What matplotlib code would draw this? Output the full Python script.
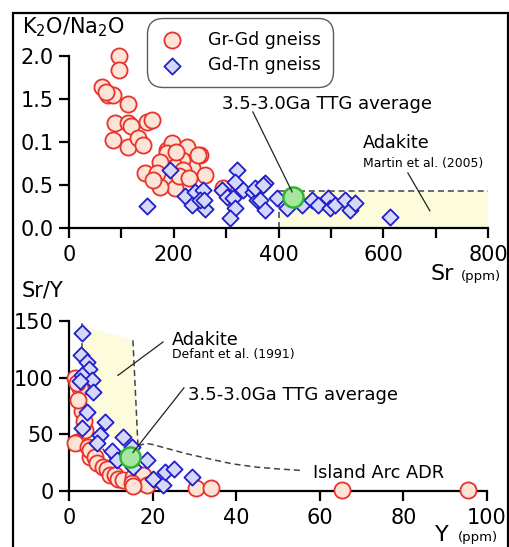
import numpy as np
import matplotlib
matplotlib.use("Agg")
import matplotlib.pyplot as plt
from matplotlib.patches import Rectangle, Polygon

plt.rcParams["font.family"] = ["DejaVu Sans"]
plt.rcParams["mathtext.default"] = "regular"

W, H = 509, 547

# --- top panel: Sr (ppm) vs K2O/Na2O ---
grgd_sr = [95, 95, 63, 74, 84, 112, 88, 112, 118, 149, 158, 84, 112, 132, 141,
           145, 174, 183, 202, 174, 187, 197, 225, 250, 235, 260, 216, 199, 187,
           174, 168, 218, 246, 294, 210, 230, 70, 160, 205]
grgd_k = [2.0, 1.84, 1.64, 1.55, 1.55, 1.44, 1.22, 1.22, 1.19, 1.23, 1.26, 1.02,
          0.94, 1.05, 0.97, 0.64, 0.67, 0.53, 0.47, 0.48, 0.91, 0.99, 0.94, 0.85,
          0.70, 0.62, 0.79, 0.75, 0.87, 0.77, 0.64, 0.67, 0.85, 0.47, 0.60, 0.58,
          1.58, 0.56, 0.88]
gdtn_sr = [193, 149, 221, 240, 256, 235, 260, 250, 292, 301, 320, 317, 332, 313,
           317, 307, 351, 359, 355, 374, 365, 374, 397, 416, 445, 464, 475, 494,
           498, 508, 527, 536, 546, 613, 370, 258]
gdtn_k = [0.67, 0.26, 0.37, 0.42, 0.44, 0.27, 0.22, 0.33, 0.44, 0.36, 0.67, 0.53,
          0.44, 0.35, 0.23, 0.12, 0.42, 0.33, 0.47, 0.52, 0.33, 0.21, 0.35, 0.23,
          0.27, 0.33, 0.27, 0.35, 0.23, 0.27, 0.33, 0.21, 0.29, 0.13, 0.50, 0.33]
ttg_sr, ttg_k = 427, 0.36
adakite_top_sr = [400, 800]
adakite_top_k = 0.43
top_yticks = [0.0, 0.5, 1.0, 1.5, 2.0]
top_yticklabels = ["0.0", "0.5", "0.1", "1.5", "2.0"]

# --- bottom panel: Y (ppm) vs Sr/Y ---
grgd_y = [1.4, 2.6, 1.9, 3.1, 1.9, 1.4, 4.5, 3.8, 5.0, 5.0, 6.2, 6.7, 8.1, 9.0,
          9.8, 11.0, 11.7, 13.0, 15.3, 15.3, 17.5, 17.7, 18.7, 15.0, 15.3, 30.5,
          34.0, 65.3, 95.5, 2.2, 3.5]
grgd_sry = [100, 91, 95, 71, 43, 42, 39, 54, 30, 36, 30, 25, 21, 19, 14, 14, 11,
            10, 10, 12, 12, 14, 5, 7, 4, 3, 3, 1, 1, 80, 62]
gdtn_y = [3.1, 2.9, 4.3, 4.8, 3.1, 5.5, 5.7, 4.3, 3.1, 7.4, 8.6, 6.7, 10.3, 13.0,
          11.5, 15.0, 18.7, 15.3, 20.1, 22.5, 23.0, 25.0, 29.4, 2.6]
gdtn_sry = [139, 120, 114, 108, 102, 98, 87, 70, 56, 49, 61, 42, 35, 48, 27, 39,
            27, 21, 11, 5, 17, 19, 12, 97]
ttg_y, ttg_sry = 14.6, 30
adakite_bot_y = [3.1, 15.3, 16.5, 12, 8, 5, 3.6, 3.1]
adakite_bot_sry = [146, 133, 42, 44, 52, 70, 90, 120]
adakite_edge_y = [15.3, 16.5]
adakite_edge_sry = [133, 40]
adr_upper_y = [16.5, 18.5, 20, 24, 28, 34, 39, 45, 50, 56]
adr_upper_sry = [40, 42, 41, 37, 33, 28, 24, 21, 19.5, 18]
adr_lower_y = [3.1, 3.1, 3.5, 4.2, 5.5, 7.5, 10, 13.9, 15.8]
adr_lower_sry = [148, 120, 95, 75, 55, 40, 28, 8, 0]

RED_E, RED_F = "#e8322b", "#fde4d6"
BLUE_E, BLUE_F = "#1f1fcc", "#d6d8fa"
GREEN_E, GREEN_F = "#2db82d", "#a6e6a0"
YELLOW = "#fcfbdc"
DASH = "#444444"


def fx(px):
    return px / W


def fy(py):
    return 1 - py / H


def style_axes(ax):
    for s in ["top", "right"]:
        ax.spines[s].set_visible(False)
    for s in ["left", "bottom"]:
        ax.spines[s].set_linewidth(1.6)
    ax.tick_params(which="both", direction="out", length=7.5, width=1.6,
                   labelsize=15)
    ax.tick_params(axis="x", pad=5)
    ax.tick_params(axis="y", pad=3.5)
    ax.set_facecolor("none")


fig = plt.figure(figsize=(W / 100, H / 100), dpi=100)

# top panel
ax1 = fig.add_axes([fx(69), fy(228), fx(488) - fx(69), fy(56) - fy(228)])
ax1.set_xlim(0, 800)
ax1.set_ylim(0, 2.0)
ax1.fill_between(adakite_top_sr, 0, adakite_top_k, color=YELLOW, lw=0, zorder=0)
ax1.plot(adakite_top_sr, [adakite_top_k] * 2, ls=(0, (4, 2.5)), color=DASH, lw=1.1, zorder=1)
ax1.plot([adakite_top_sr[0]] * 2, [0, adakite_top_k], ls=(0, (4, 2.5)), color=DASH, lw=1.1, zorder=1)
ax1.scatter(grgd_sr, grgd_k, s=135, marker="o", facecolor=RED_F, edgecolor=RED_E,
            lw=1.3, zorder=3, clip_on=False, label="Gr-Gd gneiss")
ax1.scatter(gdtn_sr, gdtn_k, s=68, marker="D", facecolor=BLUE_F, edgecolor=BLUE_E,
            lw=1.3, zorder=4, clip_on=False, label="Gd-Tn gneiss")
ax1.scatter([ttg_sr], [ttg_k], s=210, marker="o", facecolor=GREEN_F, edgecolor=GREEN_E,
            lw=1.8, zorder=5, clip_on=False)
ax1.plot([351, 426], [1.35, 0.42], color="#222222", lw=0.9, zorder=6)
ax1.plot([647, 689], [0.64, 0.20], color="#222222", lw=0.9, zorder=6)
ax1.set_xticks([0, 200, 400, 600, 800])
ax1.set_xticks([100, 300, 500, 700], minor=True)
ax1.set_yticks(top_yticks)
ax1.set_yticklabels(top_yticklabels)
style_axes(ax1)

leg = ax1.legend(loc="upper left", bbox_to_anchor=(fx(150), fy(21)),
                 bbox_transform=fig.transFigure, fontsize=12.5, frameon=True,
                 fancybox=True, edgecolor="#333333", borderpad=0.55,
                 handlelength=1.4, handletextpad=1.4, labelspacing=0.45,
                 borderaxespad=0, scatterpoints=1)
leg.get_frame().set_boxstyle("round,pad=0.15,rounding_size=0.9")
leg.get_frame().set_linewidth(1.0)

# bottom panel
ax2 = fig.add_axes([fx(69), fy(491), fx(487) - fx(69), fy(321) - fy(491)])
ax2.set_xlim(0, 100)
ax2.set_ylim(0, 150)
ax2.add_patch(Polygon(np.column_stack([adakite_bot_y, adakite_bot_sry]),
                      closed=True, facecolor=YELLOW, edgecolor="none", zorder=0))
ax2.plot(adakite_edge_y, adakite_edge_sry, ls=(0, (4, 2.5)), color=DASH, lw=1.1, zorder=1)
ax2.plot(adr_upper_y, adr_upper_sry, ls=(0, (4, 2.5)), color=DASH, lw=1.1, zorder=1)
ax2.plot(adr_lower_y, adr_lower_sry, ls=(0, (4, 2.5)), color=DASH, lw=1.1, zorder=1)
ax2.scatter(grgd_y, grgd_sry, s=135, marker="o", facecolor=RED_F, edgecolor=RED_E,
            lw=1.3, zorder=3, clip_on=False)
ax2.scatter(gdtn_y, gdtn_sry, s=68, marker="D", facecolor=BLUE_F, edgecolor=BLUE_E,
            lw=1.3, zorder=4, clip_on=False)
ax2.scatter([ttg_y], [ttg_sry], s=210, marker="o", facecolor=GREEN_F, edgecolor=GREEN_E,
            lw=1.8, zorder=5, clip_on=False)
ax2.plot([22.5, 11.7], [131.5, 102], color="#222222", lw=0.9, zorder=6)
ax2.plot([27.5, 15.3], [91, 34], color="#222222", lw=0.9, zorder=6)
ax2.set_xticks([0, 20, 40, 60, 80, 100])
ax2.set_yticks([0, 50, 100, 150])
style_axes(ax2)

# texts
fig.text(fx(22), fy(33), "K$_2$O/Na$_2$O", fontsize=15, va="baseline")
fig.text(fx(430), fy(280), "Sr", fontsize=16, va="baseline")
fig.text(fx(461), fy(280), "(ppm)", fontsize=9.5, va="baseline")
fig.text(fx(222), fy(109), "3.5-3.0Ga TTG average", fontsize=13, va="baseline")
fig.text(fx(363), fy(148), "Adakite", fontsize=12.7, va="baseline")
fig.text(fx(363), fy(167), "Martin et al. (2005)", fontsize=8.9, va="baseline")

fig.text(fx(22), fy(297), "Sr/Y", fontsize=15, va="baseline")
fig.text(fx(435), fy(541), "Y", fontsize=16, va="baseline")
fig.text(fx(458), fy(541), "(ppm)", fontsize=9.5, va="baseline")
fig.text(fx(172), fy(345), "Adakite", fontsize=12.7, va="baseline")
fig.text(fx(172), fy(358), "Defant et al. (1991)", fontsize=8.9, va="baseline")
fig.text(fx(188), fy(400), "3.5-3.0Ga TTG average", fontsize=13, va="baseline")
fig.text(fx(313), fy(478), "Island Arc ADR", fontsize=12.8, va="baseline")

# outer frame
fig.add_artist(Rectangle((fx(13), -0.1), fx(508) - fx(13), fy(13) + 0.1,
                         transform=fig.transFigure, fill=False, lw=1.6,
                         edgecolor="black"))

fig.savefig("out.png", dpi=100)
